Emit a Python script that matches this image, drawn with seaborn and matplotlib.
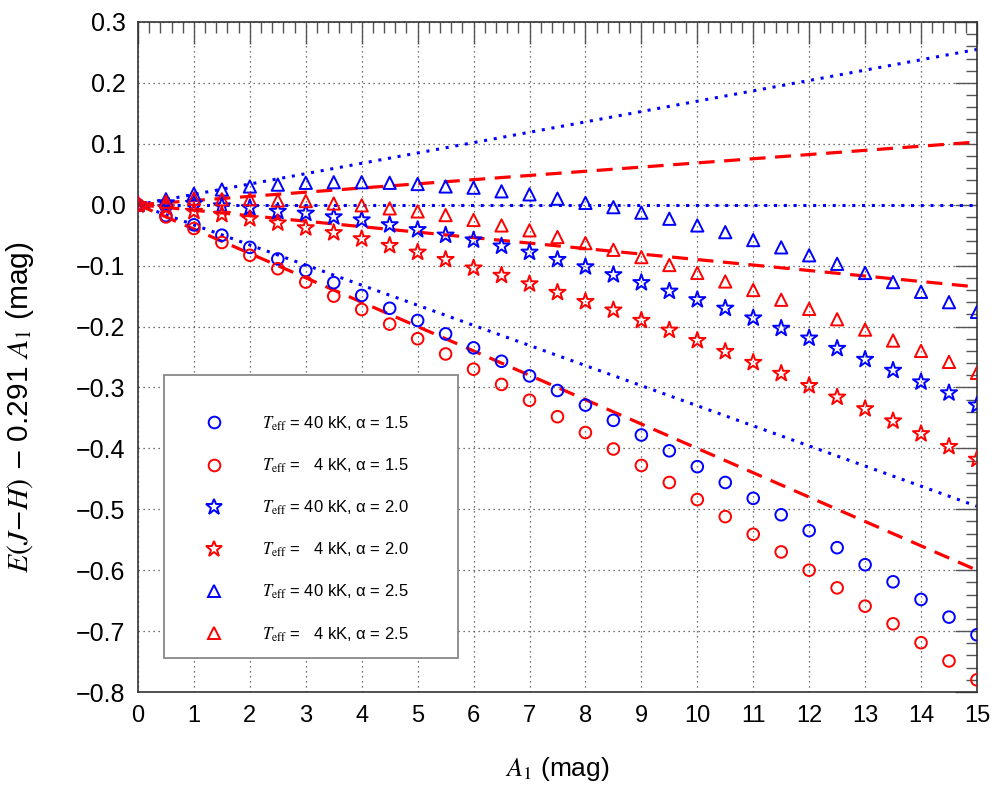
import numpy as np
import pandas as pd
import matplotlib
matplotlib.use("Agg")
import matplotlib.pyplot as plt
import seaborn as sns
from matplotlib.lines import Line2D
from matplotlib.ticker import MultipleLocator

# ==============================
# data
# ==============================
A1 = [0, 0.5, 1, 1.5, 2, 2.5, 3, 3.5, 4, 4.5, 5, 5.5, 6, 6.5, 7, 7.5,
      8, 8.5, 9, 9.5, 10, 10.5, 11, 11.5, 12, 12.5, 13, 13.5, 14, 14.5, 15]

hot_a15 = [0, -0.018, -0.033, -0.050, -0.070, -0.089, -0.108, -0.128, -0.149, -0.170,
           -0.190, -0.212, -0.235, -0.257, -0.281, -0.305, -0.329, -0.354, -0.378,
           -0.404, -0.430, -0.456, -0.482, -0.509, -0.535, -0.563, -0.591, -0.619,
           -0.648, -0.677, -0.706]
cool_a15 = [0, -0.020, -0.039, -0.062, -0.083, -0.105, -0.127, -0.150, -0.172, -0.196,
            -0.220, -0.245, -0.270, -0.295, -0.321, -0.348, -0.374, -0.401, -0.428,
            -0.456, -0.484, -0.512, -0.541, -0.570, -0.600, -0.629, -0.659, -0.688,
            -0.719, -0.749, -0.780]
hot_a20 = [0, 0.003, 0.002, -0.002, -0.005, -0.011, -0.014, -0.020, -0.025, -0.033,
           -0.041, -0.050, -0.058, -0.068, -0.078, -0.090, -0.102, -0.115, -0.128,
           -0.142, -0.156, -0.170, -0.186, -0.203, -0.219, -0.236, -0.254, -0.272,
           -0.291, -0.309, -0.329]
cool_a20 = [0, -0.005, -0.011, -0.016, -0.023, -0.030, -0.038, -0.046, -0.056, -0.067,
            -0.078, -0.090, -0.104, -0.116, -0.130, -0.144, -0.159, -0.173, -0.190,
            -0.206, -0.223, -0.241, -0.259, -0.277, -0.297, -0.316, -0.335, -0.355,
            -0.376, -0.397, -0.418]
hot_a25 = [0, 0.009, 0.018, 0.025, 0.030, 0.033, 0.036, 0.037, 0.037, 0.036,
           0.034, 0.030, 0.028, 0.022, 0.017, 0.010, 0.003, -0.004, -0.013,
           -0.023, -0.034, -0.045, -0.058, -0.070, -0.083, -0.097, -0.112, -0.127,
           -0.143, -0.160, -0.176]
cool_a25 = [0, 0.005, 0.010, 0.009, 0.009, 0.007, 0.006, 0.002, -0.001, -0.006,
            -0.011, -0.017, -0.025, -0.034, -0.042, -0.053, -0.063, -0.074, -0.086,
            -0.099, -0.112, -0.126, -0.140, -0.156, -0.171, -0.188, -0.205, -0.223,
            -0.240, -0.258, -0.276]

# straight reference lines (start / end values)
line_x = [0, 15]
blue_lines = [[0, 0.255], [0, 0.0], [0, -0.495]]
red_lines = [[0, 0.103], [0, -0.135], [0, -0.600]]

labels = [
    r"$T_{\rm eff}$ = 40 kK, α = 1.5",
    r"$T_{\rm eff}$ =   4 kK, α = 1.5",
    r"$T_{\rm eff}$ = 40 kK, α = 2.0",
    r"$T_{\rm eff}$ =   4 kK, α = 2.0",
    r"$T_{\rm eff}$ = 40 kK, α = 2.5",
    r"$T_{\rm eff}$ =   4 kK, α = 2.5",
]
series = [hot_a15, cool_a15, hot_a20, cool_a20, hot_a25, cool_a25]
colors = ["#0000ff", "#ff0000"] * 3
markers = ["o", "o", "*", "*", "^", "^"]
sizes = [70, 70, 150, 150, 78, 78]
msize = [8.4, 8.4, 12, 12, 8.8, 8.8]

# ==============================
# style
# ==============================
sns.set_theme(style="white")
plt.rcParams["font.family"] = ["Liberation Sans", "DejaVu Sans"]
plt.rcParams["mathtext.fontset"] = "stix"
plt.rcParams["mathtext.rm"] = "Liberation Sans"
plt.rcParams["text.color"] = "black"
plt.rcParams["axes.labelcolor"] = "black"

fig = plt.figure(figsize=(9.97, 7.97), dpi=100)
ax = fig.add_axes([0.1384, 0.1317, 0.8415, 0.8407])

# fit lines
for yy in blue_lines:
    d = pd.DataFrame({"x": line_x, "y": yy})
    sns.lineplot(data=d, x="x", y="y", color="#0000ff", lw=2.2,
                 linestyle=(0, (1, 2.2)), ax=ax)
for yy in red_lines:
    d = pd.DataFrame({"x": line_x, "y": yy})
    sns.lineplot(data=d, x="x", y="y", color="#ff0000", lw=2.3,
                 linestyle=(0, (5, 3)), ax=ax)

# model points
for vals, c, m, s in zip(series, colors, markers, sizes):
    sns.scatterplot(x=A1, y=vals, marker=m, s=s, facecolor="none",
                    edgecolor=c, linewidth=1.4, ax=ax, zorder=3)

ax.set_xlim(0, 15)
ax.set_ylim(-0.8, 0.3)
ax.xaxis.set_major_locator(MultipleLocator(1))
ax.xaxis.set_minor_locator(MultipleLocator(0.2))
ax.yaxis.set_major_locator(MultipleLocator(0.1))
ax.yaxis.set_minor_locator(MultipleLocator(0.02))
ax.yaxis.set_major_formatter(matplotlib.ticker.FuncFormatter(
    lambda v, p: f"{v:.1f}".replace("-", "\u2212")))

ax.tick_params(which="both", direction="in", top=True, right=True,
               color="#555555", labelcolor="black", width=1)
ax.tick_params(which="major", length=16, pad=9)
ax.tick_params(which="minor", length=8)
ax.tick_params(axis="y", labelsize=18)
ax.tick_params(axis="x", labelsize=17)
ax.grid(True, which="major", color="#444444", linestyle=(0, (1, 3)), lw=0.9)
for sp in ax.spines.values():
    sp.set_color("#333333")
    sp.set_linewidth(1.2)

ax.set_xlabel(r"$A_{\rm 1}$ (mag)", fontsize=19, color="black")
ax.xaxis.set_label_coords(0.5, -0.094)
ax.set_ylabel(r"$E(J\!-\!H)$ $-$ 0.291 $A_{\rm 1}$ (mag)", fontsize=21.5, color="black")
ax.yaxis.set_label_coords(-0.121, 0.425)

handles = [Line2D([], [], ls="none", marker=m, ms=ms, mfc="none", mec=c, mew=1.4)
           for m, c, ms in zip(markers, colors, msize)]
leg = ax.legend(handles, labels, loc="lower left",
                bbox_to_anchor=(0.031, 0.051, 0.35, 0.418), mode="expand",
                fontsize=12, frameon=True, fancybox=False, framealpha=1,
                edgecolor="#888888", labelspacing=1.43, handlelength=4.3,
                handletextpad=0.75, borderpad=0.85, borderaxespad=0,
                title=" ", title_fontsize=1)
leg.get_frame().set_linewidth(1.3)
for t in leg.get_texts():
    t.set_color("black")

plt.savefig("out.png", dpi=100)
